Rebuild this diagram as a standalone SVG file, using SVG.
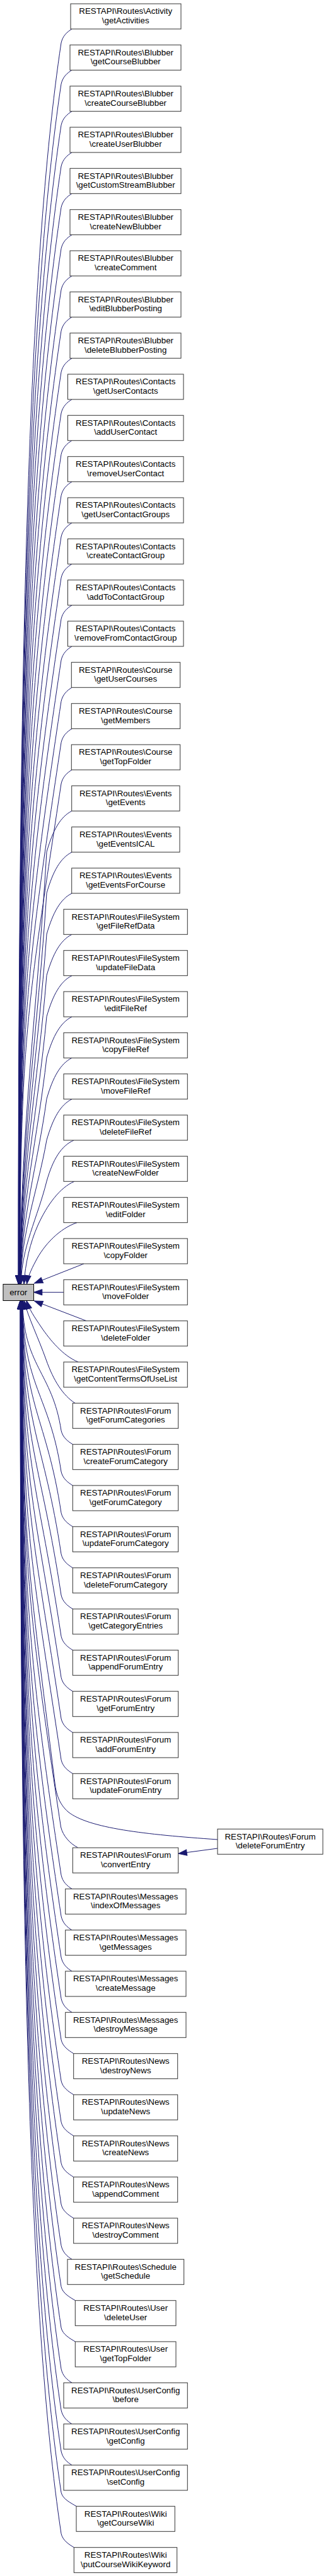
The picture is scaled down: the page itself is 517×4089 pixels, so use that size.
<svg xmlns="http://www.w3.org/2000/svg" width="517" height="4089" viewBox="0 0 517 4089">
<style>
.n rect{fill:#fff;stroke:#333;stroke-width:1}
.r rect{fill:#bfbfbf;stroke:#000;stroke-width:1}
text{font-family:"Liberation Sans",Arial,sans-serif;font-size:13.33px;text-anchor:middle;fill:#000}
#edges path{fill:none;stroke:#191970;stroke-width:1;marker-end:url(#ah)}
</style>
<defs>
<marker id="ah" markerUnits="userSpaceOnUse" markerWidth="14" markerHeight="10" refX="13.3" refY="4.65" orient="auto" overflow="visible">
<path d="M0,0 L13.3,4.65 L0,9.3 z" fill="#191970" stroke="#191970" stroke-width="1"/>
</marker>
</defs>
<rect x="0" y="0" width="517" height="4089" fill="#fff"/>
<g id="edges">
<path d="M114,46 C106,51 99.5,57 97,68 C44.5,418 29,1053 29,2038"/>
<path d="M114,111.3 C106,116.3 99.5,122.3 97,133.3 C44.5,483.3 29.2,1085.7 29.2,2038"/>
<path d="M114,176.7 C106,181.7 99.5,187.7 97,198.7 C44.5,548.7 29.3,1118.3 29.3,2038"/>
<path d="M114,242 C106,247 99.5,253 97,264 C44.5,614 29.5,1151 29.5,2038"/>
<path d="M114,307.3 C106,312.3 99.5,318.3 97,329.3 C44.5,679.3 29.6,1183.7 29.6,2038"/>
<path d="M114,372.7 C106,377.7 99.5,383.7 97,394.7 C44.5,744.7 29.8,1216.3 29.8,2038"/>
<path d="M114,438 C106,443 99.5,449 97,460 C44.5,810 29.9,1249 29.9,2038"/>
<path d="M114,503.3 C106,508.3 99.5,514.3 97,525.3 C44.5,875.3 30.1,1281.7 30.1,2038"/>
<path d="M114,568.7 C106,573.7 99.5,579.7 97,590.7 C44.5,940.7 30.2,1314.3 30.2,2038"/>
<path d="M114,634 C106,639 99.5,645 97,656 C44.5,1006 30.4,1347 30.4,2038"/>
<path d="M114,699.3 C106,704.3 99.5,710.3 97,721.3 C44.5,1071.3 30.5,1379.7 30.5,2038"/>
<path d="M114,764.7 C106,769.7 99.5,775.7 97,786.7 C44.5,1136.7 30.7,1412.3 30.7,2038"/>
<path d="M114,830 C106,835 99.5,841 97,852 C44.5,1202 30.8,1445 30.8,2038"/>
<path d="M114,895.3 C106,900.3 99.5,906.3 97,917.3 C44.5,1267.3 31,1477.7 31,2038"/>
<path d="M114,960.7 C106,965.7 99.5,971.7 97,982.7 C44.5,1332.7 31.1,1510.3 31.1,2038"/>
<path d="M114,1026 C106,1031 99.5,1037 97,1048 C44.5,1398 31.3,1543 31.3,2038"/>
<path d="M114,1091.3 C106,1096.3 99.5,1102.3 97,1113.3 C44.5,1463.3 31.4,1575.7 31.4,2038"/>
<path d="M114,1156.7 C106,1161.7 99.5,1167.7 97,1178.7 C44.5,1528.7 31.6,1608.3 31.6,2038"/>
<path d="M114,1222 C106,1227 99.5,1233 97,1244 C44.5,1594 31.7,1641 31.7,2038"/>
<path d="M114,1287.3 C96,1296.3 84,1317.3 74,1352.3 C60,1592.3 31.9,1798 31.9,2038"/>
<path d="M114,1352.7 C96,1361.7 84,1382.7 74,1417.7 C60,1634.8 32,1820.9 32,2038"/>
<path d="M114,1418 C96,1427 84,1448 74,1483 C60,1677.3 32.2,1843.8 32.2,2038"/>
<path d="M114,1483.3 C96,1492.3 84,1513.3 74,1548.3 C60,1719.7 32.3,1866.6 32.3,2038"/>
<path d="M114,1548.7 C96,1557.7 84,1578.7 74,1613.7 C60,1762.2 32.5,1889.5 32.5,2038"/>
<path d="M114,1614 C96,1623 84,1644 74,1679 C60,1804.7 32.6,1912.3 32.6,2038"/>
<path d="M114,1679.3 C96,1688.3 84,1709.3 74,1744.3 C60,1847.1 32.8,1935.2 32.8,2038"/>
<path d="M114,1744.7 C96,1753.7 84,1774.7 74,1809.7 C60,1889.6 32.9,1958.1 32.9,2038"/>
<path d="M117,1810 C97,1819 84,1840 74,1875 C60,1932 33.5,1981 33.5,2038"/>
<path d="M118,1875.3 C95,1885 75,1912 60,1945 C48,1972 40,2005 38,2038"/>
<path d="M122,1940.7 C95,1950 70,1975 56,2003 C49,2016 44,2028 42.5,2038"/>
<path d="M133,2006 L54.5,2037"/>
<path d="M101,2051.3 L53.5,2051.3"/>
<path d="M137,2096.7 L54.5,2065"/>
<path d="M124,2162 C100,2152 80,2128 65,2106 C55,2091 46,2078 42,2064.5"/>
<path d="M119,2227.3 C100,2215 85,2192 73,2158 C61,2124 45,2092 38,2064.5"/>
<path d="M115.3,2292.7 C107.3,2287.7 99.5,2281.7 97,2270.7 C83.1,2177.9 36,2167.6 36,2064.5"/>
<path d="M115.3,2358 C107.3,2353 99.5,2347 97,2336 C78.7,2213.8 35.9,2200.3 35.9,2064.5"/>
<path d="M115.3,2423.3 C107.3,2418.3 99.5,2412.3 97,2401.3 C74.3,2249.7 35.7,2232.9 35.7,2064.5"/>
<path d="M115.3,2488.7 C107.3,2483.7 99.5,2477.7 97,2466.7 C69.9,2285.7 35.6,2265.6 35.6,2064.5"/>
<path d="M115.3,2554 C107.3,2549 99.5,2543 97,2532 C65.4,2321.6 35.4,2298.3 35.4,2064.5"/>
<path d="M115.3,2619.3 C107.3,2614.3 99.5,2608.3 97,2597.3 C61,2357.5 35.3,2330.9 35.3,2064.5"/>
<path d="M115.3,2684.7 C107.3,2679.7 99.5,2673.7 97,2662.7 C56.6,2393.5 35.1,2363.6 35.1,2064.5"/>
<path d="M115.3,2750 C107.3,2745 99.5,2739 97,2728 C52.2,2429.4 35,2396.3 35,2064.5"/>
<path d="M115.3,2815.3 C107.3,2810.3 99.5,2804.3 97,2793.3 C47.8,2465.3 34.8,2428.9 34.8,2064.5"/>
<path d="M345,2920 C230,2912 140,2902 108,2876 C93,2863 89,2846 87,2830 C44,2485 34.7,2447.3 34.7,2064.5"/>
<path d="M345,2934 L283,2942.3"/>
<path d="M123.3,2932.7 C112,2927 100,2915 96.5,2900 C44,2550 34.5,2482.3 34.5,2064.5"/>
<path d="M114,2998.3 C106,2993.3 99.5,2987.3 97,2976.3 C44.5,2626.3 34.4,2520.4 34.4,2064.5"/>
<path d="M114,3063.7 C106,3058.7 99.5,3052.7 97,3041.7 C44.5,2691.7 34.2,2553.1 34.2,2064.5"/>
<path d="M114,3129 C106,3124 99.5,3118 97,3107 C44.5,2757 34.1,2585.8 34.1,2064.5"/>
<path d="M114,3194.3 C106,3189.3 99.5,3183.3 97,3172.3 C44.5,2822.3 33.9,2618.4 33.9,2064.5"/>
<path d="M116.7,3259.7 C108.7,3254.7 99.5,3248.7 97,3237.7 C44.5,2887.7 33.8,2651.1 33.8,2064.5"/>
<path d="M116.7,3325 C108.7,3320 99.5,3314 97,3303 C44.5,2953 33.6,2683.8 33.6,2064.5"/>
<path d="M116.7,3390.3 C108.7,3385.3 99.5,3379.3 97,3368.3 C44.5,3018.3 33.5,2716.4 33.5,2064.5"/>
<path d="M116.7,3455.7 C108.7,3450.7 99.5,3444.7 97,3433.7 C44.5,3083.7 33.3,2749.1 33.3,2064.5"/>
<path d="M116.7,3521 C108.7,3516 99.5,3510 97,3499 C44.5,3149 33.2,2781.8 33.2,2064.5"/>
<path d="M114,3586.3 C106,3581.3 99.5,3575.3 97,3564.3 C44.5,3214.3 33,2814.4 33,2064.5"/>
<path d="M119.3,3651.7 C111.3,3646.7 99.5,3640.7 97,3629.7 C44.5,3279.7 32.9,2847.1 32.9,2064.5"/>
<path d="M119.3,3717 C111.3,3712 99.5,3706 97,3695 C44.5,3345 32.7,2879.8 32.7,2064.5"/>
<path d="M114,3782.3 C106,3777.3 99.5,3771.3 97,3760.3 C44.5,3410.3 32.6,2912.4 32.6,2064.5"/>
<path d="M114,3847.7 C106,3842.7 99.5,3836.7 97,3825.7 C44.5,3475.7 32.4,2945.1 32.4,2064.5"/>
<path d="M114,3913 C106,3908 99.5,3902 97,3891 C44.5,3541 32.3,2977.8 32.3,2064.5"/>
<path d="M121,3978.3 C113,3973.3 99.5,3967.3 97,3956.3 C44.5,3606.3 32.1,3010.4 32.1,2064.5"/>
<path d="M117.3,4043.7 C109.3,4038.7 99.5,4032.7 97,4021.7 C44.5,3671.7 32,3043.1 32,2064.5"/>
</g>
<g id="error" class="r"><rect x="5" y="2038.5" width="48.5" height="26"/><text x="29.2" y="2056">error</text></g>
<g id="n0" class="n"><rect x="112" y="6" width="175" height="40"/><text x="199.2" y="22.3">RESTAPI\Routes\Activity</text><text x="199.2" y="36.8">\getActivities</text></g>
<g id="n1" class="n"><rect x="111" y="71.3" width="176" height="40"/><text x="199.2" y="87.6">RESTAPI\Routes\Blubber</text><text x="199.2" y="102.1">\getCourseBlubber</text></g>
<g id="n2" class="n"><rect x="111" y="136.7" width="176" height="40"/><text x="199.2" y="153">RESTAPI\Routes\Blubber</text><text x="199.2" y="167.5">\createCourseBlubber</text></g>
<g id="n3" class="n"><rect x="111" y="202" width="176" height="40"/><text x="199.2" y="218.3">RESTAPI\Routes\Blubber</text><text x="199.2" y="232.8">\createUserBlubber</text></g>
<g id="n4" class="n"><rect x="111" y="267.3" width="176" height="40"/><text x="199.2" y="283.6">RESTAPI\Routes\Blubber</text><text x="199.2" y="298.1">\getCustomStreamBlubber</text></g>
<g id="n5" class="n"><rect x="111" y="332.7" width="176" height="40"/><text x="199.2" y="349">RESTAPI\Routes\Blubber</text><text x="199.2" y="363.5">\createNewBlubber</text></g>
<g id="n6" class="n"><rect x="111" y="398" width="176" height="40"/><text x="199.2" y="414.3">RESTAPI\Routes\Blubber</text><text x="199.2" y="428.8">\createComment</text></g>
<g id="n7" class="n"><rect x="111" y="463.3" width="176" height="40"/><text x="199.2" y="479.6">RESTAPI\Routes\Blubber</text><text x="199.2" y="494.1">\editBlubberPosting</text></g>
<g id="n8" class="n"><rect x="111" y="528.7" width="176" height="40"/><text x="199.2" y="545">RESTAPI\Routes\Blubber</text><text x="199.2" y="559.5">\deleteBlubberPosting</text></g>
<g id="n9" class="n"><rect x="107.5" y="594" width="183.5" height="40"/><text x="199.2" y="610.3">RESTAPI\Routes\Contacts</text><text x="199.2" y="624.8">\getUserContacts</text></g>
<g id="n10" class="n"><rect x="107.5" y="659.3" width="183.5" height="40"/><text x="199.2" y="675.6">RESTAPI\Routes\Contacts</text><text x="199.2" y="690.1">\addUserContact</text></g>
<g id="n11" class="n"><rect x="107.5" y="724.7" width="183.5" height="40"/><text x="199.2" y="741">RESTAPI\Routes\Contacts</text><text x="199.2" y="755.5">\removeUserContact</text></g>
<g id="n12" class="n"><rect x="107.5" y="790" width="183.5" height="40"/><text x="199.2" y="806.3">RESTAPI\Routes\Contacts</text><text x="199.2" y="820.8">\getUserContactGroups</text></g>
<g id="n13" class="n"><rect x="107.5" y="855.3" width="183.5" height="40"/><text x="199.2" y="871.6">RESTAPI\Routes\Contacts</text><text x="199.2" y="886.1">\createContactGroup</text></g>
<g id="n14" class="n"><rect x="107.5" y="920.7" width="183.5" height="40"/><text x="199.2" y="937">RESTAPI\Routes\Contacts</text><text x="199.2" y="951.5">\addToContactGroup</text></g>
<g id="n15" class="n"><rect x="107.5" y="986" width="183.5" height="40"/><text x="199.2" y="1002.3">RESTAPI\Routes\Contacts</text><text x="199.2" y="1016.8">\removeFromContactGroup</text></g>
<g id="n16" class="n"><rect x="113.3" y="1051.3" width="172.4" height="40"/><text x="199.2" y="1067.6">RESTAPI\Routes\Course</text><text x="199.2" y="1082.1">\getUserCourses</text></g>
<g id="n17" class="n"><rect x="113.3" y="1116.7" width="172.4" height="40"/><text x="199.2" y="1133">RESTAPI\Routes\Course</text><text x="199.2" y="1147.5">\getMembers</text></g>
<g id="n18" class="n"><rect x="113.3" y="1182" width="172.4" height="40"/><text x="199.2" y="1198.3">RESTAPI\Routes\Course</text><text x="199.2" y="1212.8">\getTopFolder</text></g>
<g id="n19" class="n"><rect x="113.7" y="1247.3" width="171.3" height="40"/><text x="199.2" y="1263.6">RESTAPI\Routes\Events</text><text x="199.2" y="1278.1">\getEvents</text></g>
<g id="n20" class="n"><rect x="113.7" y="1312.7" width="171.3" height="40"/><text x="199.2" y="1329">RESTAPI\Routes\Events</text><text x="199.2" y="1343.5">\getEventsICAL</text></g>
<g id="n21" class="n"><rect x="113.7" y="1378" width="171.3" height="40"/><text x="199.2" y="1394.3">RESTAPI\Routes\Events</text><text x="199.2" y="1408.8">\getEventsForCourse</text></g>
<g id="n22" class="n"><rect x="101" y="1443.3" width="196.3" height="40"/><text x="199.2" y="1459.6">RESTAPI\Routes\FileSystem</text><text x="199.2" y="1474.1">\getFileRefData</text></g>
<g id="n23" class="n"><rect x="101" y="1508.7" width="196.3" height="40"/><text x="199.2" y="1525">RESTAPI\Routes\FileSystem</text><text x="199.2" y="1539.5">\updateFileData</text></g>
<g id="n24" class="n"><rect x="101" y="1574" width="196.3" height="40"/><text x="199.2" y="1590.3">RESTAPI\Routes\FileSystem</text><text x="199.2" y="1604.8">\editFileRef</text></g>
<g id="n25" class="n"><rect x="101" y="1639.3" width="196.3" height="40"/><text x="199.2" y="1655.6">RESTAPI\Routes\FileSystem</text><text x="199.2" y="1670.1">\copyFileRef</text></g>
<g id="n26" class="n"><rect x="101" y="1704.7" width="196.3" height="40"/><text x="199.2" y="1721">RESTAPI\Routes\FileSystem</text><text x="199.2" y="1735.5">\moveFileRef</text></g>
<g id="n27" class="n"><rect x="101" y="1770" width="196.3" height="40"/><text x="199.2" y="1786.3">RESTAPI\Routes\FileSystem</text><text x="199.2" y="1800.8">\deleteFileRef</text></g>
<g id="n28" class="n"><rect x="101" y="1835.3" width="196.3" height="40"/><text x="199.2" y="1851.6">RESTAPI\Routes\FileSystem</text><text x="199.2" y="1866.1">\createNewFolder</text></g>
<g id="n29" class="n"><rect x="101" y="1900.7" width="196.3" height="40"/><text x="199.2" y="1917">RESTAPI\Routes\FileSystem</text><text x="199.2" y="1931.5">\editFolder</text></g>
<g id="n30" class="n"><rect x="101" y="1966" width="196.3" height="40"/><text x="199.2" y="1982.3">RESTAPI\Routes\FileSystem</text><text x="199.2" y="1996.8">\copyFolder</text></g>
<g id="n31" class="n"><rect x="101" y="2031.3" width="196.3" height="40"/><text x="199.2" y="2047.6">RESTAPI\Routes\FileSystem</text><text x="199.2" y="2062.1">\moveFolder</text></g>
<g id="n32" class="n"><rect x="101" y="2096.7" width="196.3" height="40"/><text x="199.2" y="2113">RESTAPI\Routes\FileSystem</text><text x="199.2" y="2127.5">\deleteFolder</text></g>
<g id="n33" class="n"><rect x="101" y="2162" width="196.3" height="40"/><text x="199.2" y="2178.3">RESTAPI\Routes\FileSystem</text><text x="199.2" y="2192.8">\getContentTermsOfUseList</text></g>
<g id="n34" class="n"><rect x="115.3" y="2227.3" width="167.4" height="40"/><text x="199.2" y="2243.6">RESTAPI\Routes\Forum</text><text x="199.2" y="2258.1">\getForumCategories</text></g>
<g id="n35" class="n"><rect x="115.3" y="2292.7" width="167.4" height="40"/><text x="199.2" y="2309">RESTAPI\Routes\Forum</text><text x="199.2" y="2323.5">\createForumCategory</text></g>
<g id="n36" class="n"><rect x="115.3" y="2358" width="167.4" height="40"/><text x="199.2" y="2374.3">RESTAPI\Routes\Forum</text><text x="199.2" y="2388.8">\getForumCategory</text></g>
<g id="n37" class="n"><rect x="115.3" y="2423.3" width="167.4" height="40"/><text x="199.2" y="2439.6">RESTAPI\Routes\Forum</text><text x="199.2" y="2454.1">\updateForumCategory</text></g>
<g id="n38" class="n"><rect x="115.3" y="2488.7" width="167.4" height="40"/><text x="199.2" y="2505">RESTAPI\Routes\Forum</text><text x="199.2" y="2519.5">\deleteForumCategory</text></g>
<g id="n39" class="n"><rect x="115.3" y="2554" width="167.4" height="40"/><text x="199.2" y="2570.3">RESTAPI\Routes\Forum</text><text x="199.2" y="2584.8">\getCategoryEntries</text></g>
<g id="n40" class="n"><rect x="115.3" y="2619.3" width="167.4" height="40"/><text x="199.2" y="2635.6">RESTAPI\Routes\Forum</text><text x="199.2" y="2650.1">\appendForumEntry</text></g>
<g id="n41" class="n"><rect x="115.3" y="2684.7" width="167.4" height="40"/><text x="199.2" y="2701">RESTAPI\Routes\Forum</text><text x="199.2" y="2715.5">\getForumEntry</text></g>
<g id="n42" class="n"><rect x="115.3" y="2750" width="167.4" height="40"/><text x="199.2" y="2766.3">RESTAPI\Routes\Forum</text><text x="199.2" y="2780.8">\addForumEntry</text></g>
<g id="n43" class="n"><rect x="115.3" y="2815.3" width="167.4" height="40"/><text x="199.2" y="2831.6">RESTAPI\Routes\Forum</text><text x="199.2" y="2846.1">\updateForumEntry</text></g>
<g id="nDel" class="n"><rect x="345" y="2903.3" width="167" height="40"/><text x="428.5" y="2919.6">RESTAPI\Routes\Forum</text><text x="428.5" y="2934.1">\deleteForumEntry</text></g>
<g id="n44" class="n"><rect x="115.3" y="2933" width="167.4" height="40"/><text x="199.2" y="2949.3">RESTAPI\Routes\Forum</text><text x="199.2" y="2963.8">\convertEntry</text></g>
<g id="n45" class="n"><rect x="103.7" y="2998.3" width="191.3" height="40"/><text x="199.2" y="3014.6">RESTAPI\Routes\Messages</text><text x="199.2" y="3029.1">\indexOfMessages</text></g>
<g id="n46" class="n"><rect x="103.7" y="3063.7" width="191.3" height="40"/><text x="199.2" y="3080">RESTAPI\Routes\Messages</text><text x="199.2" y="3094.5">\getMessages</text></g>
<g id="n47" class="n"><rect x="103.7" y="3129" width="191.3" height="40"/><text x="199.2" y="3145.3">RESTAPI\Routes\Messages</text><text x="199.2" y="3159.8">\createMessage</text></g>
<g id="n48" class="n"><rect x="103.7" y="3194.3" width="191.3" height="40"/><text x="199.2" y="3210.6">RESTAPI\Routes\Messages</text><text x="199.2" y="3225.1">\destroyMessage</text></g>
<g id="n49" class="n"><rect x="116.7" y="3259.7" width="165" height="40"/><text x="199.2" y="3276">RESTAPI\Routes\News</text><text x="199.2" y="3290.5">\destroyNews</text></g>
<g id="n50" class="n"><rect x="116.7" y="3325" width="165" height="40"/><text x="199.2" y="3341.3">RESTAPI\Routes\News</text><text x="199.2" y="3355.8">\updateNews</text></g>
<g id="n51" class="n"><rect x="116.7" y="3390.3" width="165" height="40"/><text x="199.2" y="3406.6">RESTAPI\Routes\News</text><text x="199.2" y="3421.1">\createNews</text></g>
<g id="n52" class="n"><rect x="116.7" y="3455.7" width="165" height="40"/><text x="199.2" y="3472">RESTAPI\Routes\News</text><text x="199.2" y="3486.5">\appendComment</text></g>
<g id="n53" class="n"><rect x="116.7" y="3521" width="165" height="40"/><text x="199.2" y="3537.3">RESTAPI\Routes\News</text><text x="199.2" y="3551.8">\destroyComment</text></g>
<g id="n54" class="n"><rect x="107" y="3586.3" width="184.7" height="40"/><text x="199.2" y="3602.6">RESTAPI\Routes\Schedule</text><text x="199.2" y="3617.1">\getSchedule</text></g>
<g id="n55" class="n"><rect x="119.3" y="3651.7" width="159.7" height="40"/><text x="199.2" y="3668">RESTAPI\Routes\User</text><text x="199.2" y="3682.5">\deleteUser</text></g>
<g id="n56" class="n"><rect x="119.3" y="3717" width="159.7" height="40"/><text x="199.2" y="3733.3">RESTAPI\Routes\User</text><text x="199.2" y="3747.8">\getTopFolder</text></g>
<g id="n57" class="n"><rect x="101" y="3782.3" width="196.3" height="40"/><text x="199.2" y="3798.6">RESTAPI\Routes\UserConfig</text><text x="199.2" y="3813.1">\before</text></g>
<g id="n58" class="n"><rect x="101" y="3847.7" width="196.3" height="40"/><text x="199.2" y="3864">RESTAPI\Routes\UserConfig</text><text x="199.2" y="3878.5">\getConfig</text></g>
<g id="n59" class="n"><rect x="101" y="3913" width="196.3" height="40"/><text x="199.2" y="3929.3">RESTAPI\Routes\UserConfig</text><text x="199.2" y="3943.8">\setConfig</text></g>
<g id="n60" class="n"><rect x="121" y="3978.3" width="156.3" height="40"/><text x="199.2" y="3994.6">RESTAPI\Routes\Wiki</text><text x="199.2" y="4009.1">\getCourseWiki</text></g>
<g id="n61" class="n"><rect x="117.3" y="4043.7" width="163.4" height="40"/><text x="199.2" y="4060">RESTAPI\Routes\Wiki</text><text x="199.2" y="4074.5">\putCourseWikiKeyword</text></g>
</svg>
